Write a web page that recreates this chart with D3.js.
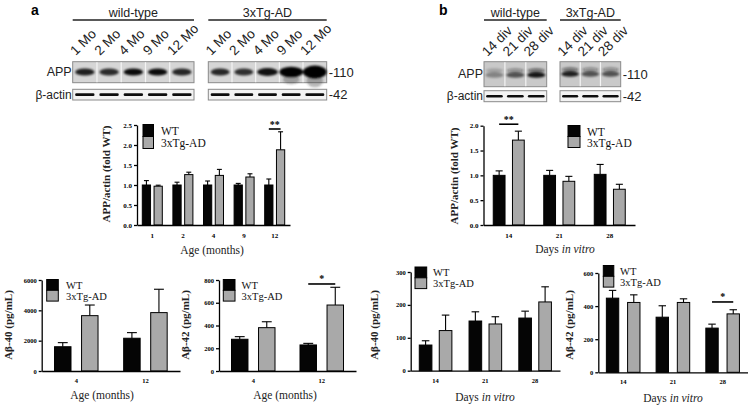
<!DOCTYPE html>
<html><head><meta charset="utf-8">
<script src="https://cdn.jsdelivr.net/npm/d3@7"></script>
<style>body{margin:0;background:#fff} svg{display:block}</style>
</head><body>
<script>
// ---------------- DATA ----------------
const ageCats = ["1", "2", "4", "9", "12"];
const appAgeWT = [1.0, 1.0, 1.0, 1.0, 1.0];
const appAgeWTErr = [0.11, 0.07, 0.10, 0.04, 0.15];
const appAgeTG = [0.97, 1.26, 1.24, 1.20, 1.88];
const appAgeTGErr = [0.025, 0.06, 0.15, 0.08, 0.45];

const divCats = ["14", "21", "28"];
const appDivWT = [1.0, 1.0, 1.02];
const appDivWTErr = [0.09, 0.10, 0.20];
const appDivTG = [1.71, 0.88, 0.72];
const appDivTGErr = [0.18, 0.10, 0.10];

const abCatsAge = ["4", "12"];
const ab40AgeWT = [1600, 2160];
const ab40AgeWTErr = [270, 370];
const ab40AgeTG = [3650, 3850];
const ab40AgeTGErr = [700, 1540];

const ab42AgeWT = [279, 229];
const ab42AgeWTErr = [23, 14];
const ab42AgeTG = [381, 580];
const ab42AgeTGErr = [52, 156];

const ab40DivWT = [78, 151, 160];
const ab40DivWTErr = [13, 28, 21];
const ab40DivTG = [122, 142, 209];
const ab40DivTGErr = [47, 22, 46];

const ab42DivWT = [448, 333, 267];
const ab42DivWTErr = [47, 69, 24];
const ab42DivTG = [422, 422, 353];
const ab42DivTGErr = [46, 22, 25];

const seriesNames = ["WT", "3xTg-AD"];

// Blot lane labels and band intensities
const blotALanes = ["1 Mo", "2 Mo", "4 Mo", "9 Mo", "12 Mo"];
const blotAWtApp = [0.85, 0.8, 0.95, 0.95, 0.82];
const blotATgApp = [0.82, 0.78, 0.92, 1.0, 1.0];
const blotATgAppSize = [1, 1, 1.1, 1.45, 1.8];
const blotBLanes = ["14 div", "21 div", "28 div"];
const blotBWtApp = [0.35, 0.6, 0.9];
const blotBTgApp = [0.85, 0.6, 0.6];

// ---------------- SETUP ----------------
const SERIF = "'Liberation Serif','Times New Roman',serif";
const SANS = "'Liberation Sans',Arial,sans-serif";
const svg = d3.select("body").append("svg").attr("width", 749).attr("height", 405);
const defs = svg.append("defs");
defs.append("filter").attr("id", "blur").attr("x", "-50%").attr("y", "-100%").attr("width", "200%").attr("height", "300%")
  .append("feGaussianBlur").attr("stdDeviation", 1.3);
defs.append("filter").attr("id", "blur2").attr("x", "-50%").attr("y", "-100%").attr("width", "200%").attr("height", "300%")
  .append("feGaussianBlur").attr("stdDeviation", 0.6);

// ---------------- BAR PANELS ----------------
function barPanel(cfg) {
  const g = svg.append("g");
  const x = d3.scaleBand().domain(cfg.cats).range([cfg.left, cfg.right]);
  const y = d3.scaleLinear().domain([0, cfg.max]).range([cfg.bottom, cfg.top]);
  const pairW = cfg.barW * 2 + cfg.gap;
  const xs = d3.scaleBand().domain(seriesNames).range([0, pairW]).paddingInner(cfg.gap / (pairW / 2));
  const rows = [];
  cfg.cats.forEach((c, i) => {
    rows.push({c, s: "WT", v: cfg.wt[i], e: cfg.wtErr[i]});
    rows.push({c, s: "3xTg-AD", v: cfg.tg[i], e: cfg.tgErr[i]});
  });
  const bx = d => x(d.c) + x.bandwidth() / 2 - pairW / 2 + xs(d.s);
  // error bars
  const eg = g.append("g").attr("stroke", "#000").attr("stroke-width", 1.1);
  eg.selectAll("line.v").data(rows).join("line")
    .attr("x1", d => bx(d) + xs.bandwidth() / 2).attr("x2", d => bx(d) + xs.bandwidth() / 2)
    .attr("y1", d => y(d.v)).attr("y2", d => y(d.v + d.e));
  eg.selectAll("line.c").data(rows).join("line")
    .attr("x1", d => bx(d) + xs.bandwidth() * 0.2).attr("x2", d => bx(d) + xs.bandwidth() * 0.8)
    .attr("y1", d => y(d.v + d.e)).attr("y2", d => y(d.v + d.e));
  // bars
  g.selectAll("rect.bar").data(rows).join("rect")
    .attr("x", bx).attr("width", xs.bandwidth())
    .attr("y", d => y(d.v)).attr("height", d => y(0) - y(d.v))
    .attr("fill", d => d.s === "WT" ? "#050505" : "#a9a9a9")
    .attr("stroke", "#000").attr("stroke-width", 1);
  // axes
  const ya = g.append("g").attr("transform", `translate(${cfg.left},0)`)
    .call(d3.axisLeft(y).tickValues(cfg.ticks).tickFormat(cfg.fmt).tickSize(3).tickSizeOuter(0).tickPadding(2));
  ya.selectAll("text").attr("font-family", SERIF).attr("font-weight", "bold").attr("font-size", cfg.tickFs || 7);
  ya.selectAll("line,path").attr("stroke-width", 1.3);
  const xa = g.append("g").attr("transform", `translate(0,${cfg.bottom})`)
    .call(d3.axisBottom(x).tickSize(0).tickSizeOuter(0).tickPadding(cfg.xPad || 7));
  xa.selectAll("text").attr("font-family", SERIF).attr("font-weight", "bold").attr("font-size", cfg.tickFs || 7);
  xa.select("path").attr("stroke-width", 1.3);
  // y label
  g.append("text").attr("transform", `translate(${cfg.ylx},${cfg.yly}) rotate(-90)`)
    .attr("text-anchor", "middle").attr("dominant-baseline", "central")
    .attr("font-family", SERIF).attr("font-weight", "bold").attr("font-size", 11).attr("fill", "#222")
    .text(cfg.ylabel);
  // x label
  const xl = g.append("text").attr("x", cfg.xlx).attr("y", cfg.xly)
    .attr("text-anchor", "middle").attr("dominant-baseline", "central")
    .attr("font-family", SERIF).attr("font-size", 11.5).attr("fill", "#222");
  cfg.xlabel.forEach(p => xl.append("tspan").attr("font-style", p.it ? "italic" : "normal").text(p.t));
  // legend
  const L = cfg.leg;
  const lg = g.append("g");
  lg.selectAll("rect").data(seriesNames).join("rect")
    .attr("x", L.x).attr("y", (d, i) => L.y + i * L.h).attr("width", L.w).attr("height", L.h)
    .attr("fill", (d, i) => i === 0 ? "#050505" : "#a9a9a9").attr("stroke", "#000").attr("stroke-width", 1);
  lg.selectAll("text").data(seriesNames).join("text")
    .attr("x", L.tx).attr("y", (d, i) => L.y + i * L.h + L.h / 2 + 0.5)
    .attr("dominant-baseline", "central").attr("font-family", SERIF).attr("font-size", L.fs).attr("fill", "#111")
    .text(d => d);
  // significance
  if (cfg.sig) {
    const s = cfg.sig;
    const x1 = x(s.cat) + x.bandwidth() / 2 - pairW / 2 + xs("WT") + xs.bandwidth() / 2;
    const x2 = x(s.cat) + x.bandwidth() / 2 - pairW / 2 + xs("3xTg-AD") + xs.bandwidth() / 2;
    g.append("line").attr("x1", x1).attr("x2", x2).attr("y1", y(s.v)).attr("y2", y(s.v))
      .attr("stroke", "#000").attr("stroke-width", 1.6);
    g.append("text").attr("x", (x1 + x2) / 2).attr("y", y(s.v) - 1.5).attr("text-anchor", "middle")
      .attr("font-family", SERIF).attr("font-weight", "bold").attr("font-size", 10).text(s.label);
  }
}

const ageLabel = [{t: "Age (months)"}];
const divLabel = [{t: "Days "}, {t: "in vitro", it: true}];

barPanel({cats: ageCats, wt: appAgeWT, wtErr: appAgeWTErr, tg: appAgeTG, tgErr: appAgeTGErr,
  left: 137, right: 290, top: 125, bottom: 225, max: 2.5, ticks: [0, 0.5, 1, 1.5, 2, 2.5], fmt: d3.format(".1f"),
  barW: 8.5, gap: 3, xPad: 8.5, ylabel: "APP/actin (fold WT)", ylx: 106, yly: 174, xlabel: ageLabel, xlx: 212, xly: 250,
  leg: {x: 143, y: 124.5, w: 10.5, h: 12, tx: 161, fs: 11.5}, sig: {cat: "12", v: 2.4, label: "**"}});

barPanel({cats: divCats, wt: appDivWT, wtErr: appDivWTErr, tg: appDivTG, tgErr: appDivTGErr,
  left: 483.5, right: 635, top: 125.7, bottom: 225, max: 2.0, ticks: [0, 0.5, 1, 1.5, 2], fmt: d3.format(".1f"),
  barW: 12.5, gap: 6, xPad: 8.5, ylabel: "APP/actin (fold WT)", ylx: 454, yly: 176, xlabel: divLabel, xlx: 565, xly: 249,
  leg: {x: 568, y: 125.5, w: 12, h: 11, tx: 587, fs: 11.5}, sig: {cat: "14", v: 2.03, label: "**"}});

barPanel({cats: abCatsAge, wt: ab40AgeWT, wtErr: ab40AgeWTErr, tg: ab40AgeTG, tgErr: ab40AgeTGErr,
  left: 41.7, right: 180, top: 280, bottom: 371, max: 6000, ticks: [0, 2000, 4000, 6000], fmt: d3.format("d"),
  barW: 17.5, gap: 8.5, xPad: 7, tickFs: 6.5, ylabel: "Aβ-40 (pg/mL)", ylx: 8, yly: 325, xlabel: ageLabel, xlx: 102, xly: 395,
  leg: {x: 46.7, y: 279.5, w: 11.6, h: 10.8, tx: 66, fs: 10.5}});

barPanel({cats: abCatsAge, wt: ab42AgeWT, wtErr: ab42AgeWTErr, tg: ab42AgeTG, tgErr: ab42AgeTGErr,
  left: 219, right: 356, top: 280, bottom: 371, max: 800, ticks: [0, 200, 400, 600, 800], fmt: d3.format("d"),
  barW: 17.5, gap: 8.5, xPad: 7, tickFs: 6.5, ylabel: "Aβ-42 (pg/mL)", ylx: 185, yly: 325, xlabel: ageLabel, xlx: 285, xly: 395,
  leg: {x: 223.3, y: 279.5, w: 11.7, h: 10.8, tx: 241.5, fs: 10.5}, sig: {cat: "12", v: 765, label: "*"}});

barPanel({cats: divCats, wt: ab40DivWT, wtErr: ab40DivWTErr, tg: ab40DivTG, tgErr: ab40DivTGErr,
  left: 410.7, right: 560, top: 272, bottom: 370.7, max: 300, ticks: [0, 100, 200, 300], fmt: d3.format("d"),
  barW: 13.3, gap: 6, xPad: 7.5, tickFs: 6.5, ylabel: "Aβ-40 (pg/mL)", ylx: 374, yly: 325, xlabel: divLabel, xlx: 485, xly: 396.5,
  leg: {x: 415, y: 267, w: 11.7, h: 10.8, tx: 433, fs: 10.5}});

barPanel({cats: divCats, wt: ab42DivWT, wtErr: ab42DivWTErr, tg: ab42DivTG, tgErr: ab42DivTGErr,
  left: 598.3, right: 747.5, top: 273, bottom: 372.3, max: 600, ticks: [0, 200, 400, 600], fmt: d3.format("d"),
  barW: 13.3, gap: 7, xPad: 7.5, tickFs: 6.5, ylabel: "Aβ-42 (pg/mL)", ylx: 569, yly: 325, xlabel: divLabel, xlx: 673, xly: 398,
  leg: {x: 603.3, y: 265.5, w: 10.5, h: 10.8, tx: 620, fs: 10.5}, sig: {cat: "28", v: 425, label: "*"}});

// ---------------- BLOTS ----------------
function blotGroup(o) {
  const g = svg.append("g");
  const lx = d3.scaleBand().domain(o.lanes).range([o.x0, o.x1]);
  // header line & text
  g.append("line").attr("x1", o.x0).attr("x2", o.x1).attr("y1", 20).attr("y2", 20).attr("stroke", "#222").attr("stroke-width", 1.4);
  g.append("text").attr("x", (o.x0 + o.x1) / 2).attr("y", 17).attr("text-anchor", "middle")
    .attr("font-family", SANS).attr("font-size", 12.5).attr("fill", "#222").text(o.title);
  // lane labels (rotated)
  g.selectAll("text.lane").data(o.lanes).join("text")
    .attr("transform", d => `translate(${lx(d) + lx.bandwidth() / 2 - o.lblOff},${o.lblY}) rotate(-45)`)
    .attr("font-family", SANS).attr("font-size", 13.5).attr("fill", "#222").text(d => d);
  // APP box
  g.append("rect").attr("x", o.x0).attr("y", o.appY).attr("width", o.x1 - o.x0).attr("height", o.appH)
    .attr("fill", o.appBg).attr("stroke", "#8a8a8a").attr("stroke-width", 1);
  // lane separators
  g.selectAll("line.sep").data(o.lanes.slice(1)).join("line")
    .attr("x1", d => lx(d)).attr("x2", d => lx(d)).attr("y1", o.appY + 0.5).attr("y2", o.appY + o.appH - 0.5)
    .attr("stroke", "#f4f4f4").attr("stroke-width", 1.2);
  // APP bands
  const bg = g.append("g").attr("filter", "url(#blur)");
  o.lanes.forEach((d, i) => {
    const cx = lx(d) + lx.bandwidth() / 2;
    const s = o.size ? o.size[i] : 1;
    const inten = o.intensity[i];
    if (o.double) {
      bg.append("ellipse").attr("cx", cx).attr("cy", o.bandY - 4.5).attr("rx", lx.bandwidth() * 0.42).attr("ry", 2.2)
        .attr("fill", "#111").attr("opacity", inten * 0.55);
      bg.append("ellipse").attr("cx", cx).attr("cy", o.bandY).attr("rx", lx.bandwidth() * 0.44).attr("ry", 2.8)
        .attr("fill", "#000").attr("opacity", inten);
    } else {
      if (s > 1.3) {
        bg.append("ellipse").attr("cx", cx).attr("cy", o.bandY + 5 * s).attr("rx", lx.bandwidth() * 0.35).attr("ry", 3.5 * s)
          .attr("fill", "#333").attr("opacity", 0.35);
      }
      bg.append("ellipse").attr("cx", cx).attr("cy", o.bandY).attr("rx", lx.bandwidth() * 0.4 * Math.min(s, 1.25)).attr("ry", 3.6 * s)
        .attr("fill", "#000").attr("opacity", inten);
    }
  });
  // actin box
  g.append("rect").attr("x", o.x0).attr("y", o.actY).attr("width", o.x1 - o.x0).attr("height", o.actH)
    .attr("fill", "#f3f3f3").attr("stroke", "#8a8a8a").attr("stroke-width", 1);
  g.append("g").attr("filter", "url(#blur2)").selectAll("rect").data(o.lanes).join("rect")
    .attr("x", d => lx(d) + lx.bandwidth() * 0.1).attr("width", lx.bandwidth() * 0.8)
    .attr("y", o.actY + o.actH / 2 - 1.3).attr("height", 2.6).attr("rx", 1.3).attr("fill", "#111");
  if (o.right) {
    g.append("text").attr("x", o.x1 + 2).attr("y", o.appY + o.appH / 2).attr("dominant-baseline", "central")
      .attr("font-family", SANS).attr("font-size", 13).attr("fill", "#222").text("-110");
    g.append("text").attr("x", o.x1 + 2).attr("y", o.actY + o.actH / 2).attr("dominant-baseline", "central")
      .attr("font-family", SANS).attr("font-size", 13).attr("fill", "#222").text("-42");
  } else {
    g.append("text").attr("x", o.x0 - 1).attr("y", o.appY + o.appH / 2).attr("dominant-baseline", "central").attr("text-anchor", "end")
      .attr("font-family", SANS).attr("font-size", 12.5).attr("fill", "#222").text("APP");
    g.append("text").attr("x", o.x0 - 1).attr("y", o.actY + o.actH / 2).attr("dominant-baseline", "central").attr("text-anchor", "end")
      .attr("font-family", SANS).attr("font-size", 12).attr("fill", "#222").text("β-actin");
  }
}

blotGroup({x0: 72.7, x1: 194, lanes: blotALanes, title: "wild-type", lblY: 56, lblOff: 9,
  appY: 61.7, appH: 21, appBg: "#d6d6d6", bandY: 72, intensity: blotAWtApp, actY: 89.3, actH: 10.7});
blotGroup({x0: 208.3, x1: 326.7, lanes: blotALanes, title: "3xTg-AD", lblY: 56, lblOff: 9, right: true,
  appY: 61.7, appH: 21, appBg: "#d6d6d6", bandY: 72, intensity: blotATgApp, size: blotATgAppSize, actY: 89.3, actH: 10.7});
blotGroup({x0: 484, x1: 546.7, lanes: blotBLanes, title: "wild-type", lblY: 57, lblOff: 7, double: true,
  appY: 61.7, appH: 25, appBg: "#c9c9c9", bandY: 75, intensity: blotBWtApp, actY: 90.7, actH: 11});
blotGroup({x0: 560, x1: 620.7, lanes: blotBLanes, title: "3xTg-AD", lblY: 57, lblOff: 7, double: true, right: true,
  appY: 61.7, appH: 25, appBg: "#c9c9c9", bandY: 74, intensity: blotBTgApp, actY: 90.7, actH: 11});

// panel letters
svg.append("text").attr("x", 31).attr("y", 15).attr("font-family", SANS).attr("font-weight", "bold").attr("font-size", 14).text("a");
svg.append("text").attr("x", 439).attr("y", 15).attr("font-family", SANS).attr("font-weight", "bold").attr("font-size", 14).text("b");
</script>
</body></html>
